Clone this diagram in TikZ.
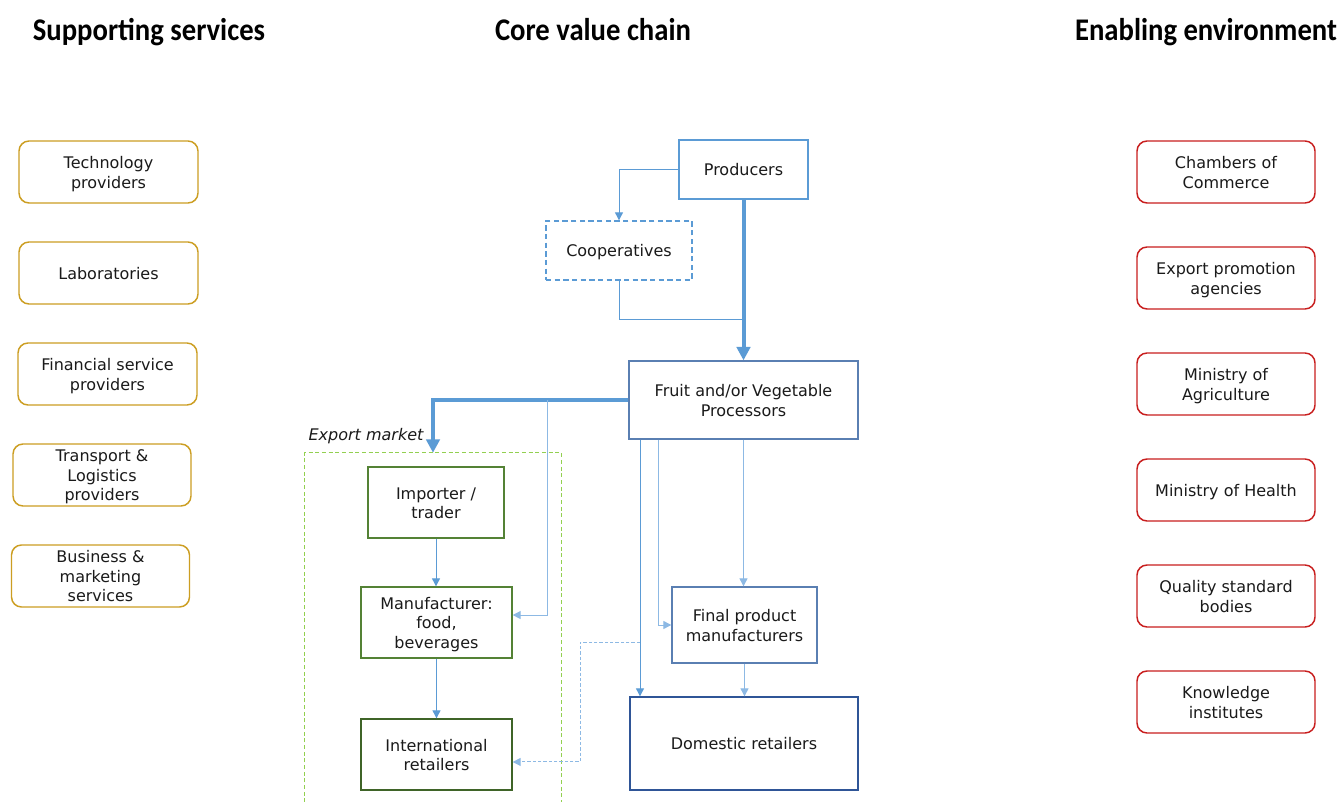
\documentclass[tikz,border=0pt]{standalone}
\usepackage{fontspec}
\setmainfont{DejaVu Sans}
\newfontfamily\headfont{Carlito}
\usetikzlibrary{arrows.meta}
\definecolor{goldc}{HTML}{CC9E22}
\definecolor{redc}{HTML}{C81E1E}
\definecolor{pblue}{HTML}{5B9BD5}
\definecolor{mblue}{HTML}{5A7FB2}
\definecolor{dblue}{HTML}{2F5597}
\definecolor{greenc}{HTML}{548235}
\definecolor{dgreen}{HTML}{3F6428}
\definecolor{lgreen}{HTML}{92D050}
\definecolor{txt}{HTML}{1A1A1A}
\definecolor{conn}{HTML}{5B9BD5}
\definecolor{connl}{HTML}{8DB9E4}
\newcommand\ps{\rule[-2.5pt]{0pt}{14.6pt}}
\newcommand\headtext[1]{\scalebox{1}[1.1]{#1}}
\begin{document}
\begin{tikzpicture}[x=0.75pt,y=-0.75pt,
  font=\fontsize{12}{14.6}\selectfont,
  heading/.style={font=\headfont\bfseries\fontsize{21.5}{24}\selectfont, text=black, inner sep=0pt, anchor=base},
  boxtext/.style={align=center, inner sep=0pt, text=txt},
  sbox/.style={boxtext, draw=goldc, line width=1.1pt, rounded corners=7.5pt, minimum width=134.25pt, minimum height=46.5pt},
  ebox/.style={boxtext, draw=redc, line width=1.1pt, rounded corners=7.5pt, minimum width=133.5pt, minimum height=46.5pt},
  cbox/.style={boxtext, line width=1pt},
  thin/.style={draw=conn, line width=0.75pt},
  thinl/.style={draw=connl, line width=0.75pt},
  tip/.style={-{Triangle[length=6pt,width=6pt]}},
  thick/.style={draw=conn, line width=3pt, -{Triangle[length=10pt,width=10pt]}}
]
\useasboundingbox (0,0) rectangle (1343,802);
\fill[white] (0,0) rectangle (1343,802);

% headings
\node[heading] (h1) at (149,40.5) {\headtext{Supporting services}};
\node[heading] (h2) at (593,40.5) {\headtext{Core value chain}};
\node[heading] (h3) at (1206,40.5) {\headtext{Enabling environment}};

% supporting services
\node[sbox] (s1) at (108.5,172) {\ps Technology\\providers\ps};
\node[sbox] (s2) at (108.5,273) {\ps Laboratories\ps};
\node[sbox] (s3) at (107.5,374) {\ps Financial service\\providers\ps};
\node[sbox, minimum width=133.5pt] (s4) at (102,475) {\ps Transport \&\\Logistics\\providers\ps};
\node[sbox, minimum width=133.5pt] (s5) at (100.5,576) {\ps Business \&\\marketing\\services\ps};

% enabling environment
\node[ebox] (e1) at (1226,172) {\ps Chambers of\\Commerce\ps};
\node[ebox] (e2) at (1226,278) {\ps Export promotion\\agencies\ps};
\node[ebox] (e3) at (1226,384) {\ps Ministry of\\Agriculture\ps};
\node[ebox] (e4) at (1226,490) {\ps Ministry of Health\ps};
\node[ebox] (e5) at (1226,596) {\ps Quality standard\\bodies\ps};
\node[ebox] (e6) at (1226,702) {\ps Knowledge\\institutes\ps};

% core value chain
\node[cbox, draw=pblue, minimum width=96.75pt, minimum height=44.25pt] (prod) at (743.5,169.5) {\ps Producers\ps};
\node[cbox, draw=pblue, dashed, dash pattern=on 4pt off 2.5pt, minimum width=109.5pt, minimum height=44.25pt] (coop) at (619,250.5) {\ps Cooperatives\ps};
\node[cbox, draw=mblue, minimum width=171.75pt, minimum height=58.5pt] (proc) at (743.5,400) {\ps Fruit and/or Vegetable\\Processors\ps};

% export market area
\node[minimum width=192pt, minimum height=261.75pt, inner sep=0pt] (exp) at (433,627.5) {};
\draw[lgreen, line width=0.75pt, dashed, dash pattern=on 3pt off 2pt] (exp.south west) -- (exp.north west) -- (exp.north east) -- (exp.south east);
\node[font=\itshape\fontsize{12}{14.6}\selectfont, text=txt, inner sep=0pt] (explbl) at (366,436) {Export market};

\node[cbox, draw=greenc, minimum width=102pt, minimum height=53.25pt] (imp) at (436,502.5) {\ps Importer /\\trader\ps};
\node[cbox, draw=greenc, minimum width=113.25pt, minimum height=53.25pt] (man) at (436.5,622.5) {\ps Manufacturer:\\food,\\beverages\ps};
\node[cbox, draw=dgreen, minimum width=113.25pt, minimum height=53.25pt] (intl) at (436.5,754.5) {\ps International\\retailers\ps};

\node[cbox, draw=mblue, minimum width=108.75pt, minimum height=57pt] (fin) at (744.5,625) {\ps Final product\\manufacturers\ps};
\node[cbox, draw=dblue, minimum width=171pt, minimum height=69.75pt] (dom) at (744,743.5) {\ps Domestic retailers\ps};

% coordinates
\coordinate (j1) at (743.5,320);
\coordinate (t1) at (547,400);
\coordinate (x640) at (640,0);
\coordinate (x658) at (658,0);
\coordinate (d0) at (640,642);
\coordinate (d1) at (580,642);

% connectors
\draw[thin, tip] (prod.west) -| (coop.north);
\draw[thin] (coop.south) |- (j1);
\draw[thick] (prod.south) -- (proc.north);
\draw[thick] (proc.west) -| (exp.north);
\draw[thinl, tip] (t1) |- ([yshift=5.6pt]man.east);
\draw[thin, tip] (imp.south) -- (imp.south |- man.north);
\draw[thin, tip] (man.south) -- (man.south |- intl.north);
\draw[thin, tip] (proc.south -| x640) -- (dom.north -| x640);
\draw[thinl, tip] (proc.south -| x658) |- (fin.west);
\draw[thinl, tip] (proc.south) -- (proc.south |- fin.north);
\draw[thinl, tip] (fin.south) -- (fin.south |- dom.north);
\draw[thinl, tip, dashed, dash pattern=on 2.5pt off 1.5pt] (d0) -- (d1) |- ([yshift=-5.6pt]intl.east);
\end{tikzpicture}
\end{document}
